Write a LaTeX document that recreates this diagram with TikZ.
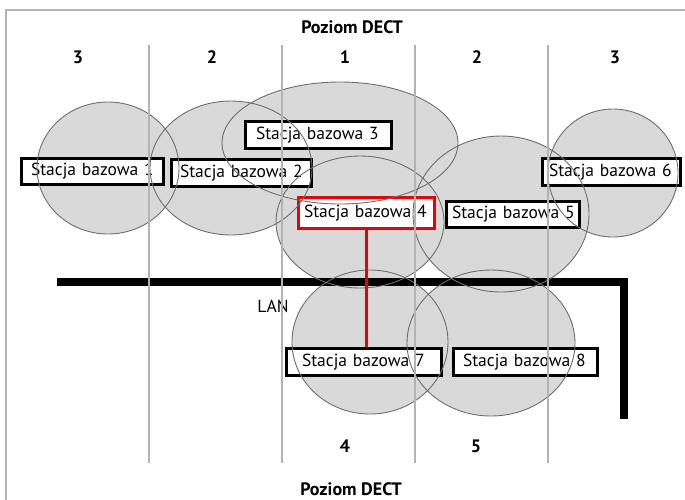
\documentclass[tikz,border=0pt]{standalone}
\usepackage{fontspec}
\setmainfont{PT Sans}
\definecolor{cellgray}{HTML}{D9D9D9}
\definecolor{edgegray}{HTML}{6E6E6E}
\definecolor{gridgray}{HTML}{B3B3B3}
\definecolor{lanred}{HTML}{EE0000}
\begin{document}
\begin{tikzpicture}[x=1pt,y=-1pt,
  cellfill/.style={fill=cellgray},
  celledge/.style={draw=edgegray, line width=0.9pt},
  gridline/.style={draw=gridgray, line width=1.6pt},
  frameline/.style={draw=gridgray, line width=2pt},
  box/.style={draw=black, line width=3.5pt, fill=white, align=left,
    font=\fontsize{17.5}{19}\selectfont, inner ysep=0pt},
  redbox/.style={box, draw=lanred},
  hdr/.style={font=\bfseries\fontsize{18}{20}\selectfont},
  lanline/.style={draw=black, line width=8pt, miter limit=10},
  link/.style={draw=lanred, line width=2.6pt}
]
\useasboundingbox (0,0) rectangle (685,499);
\begin{scope}
\clip (0,0) rectangle (685,499);
\draw[frameline] (6,10) rectangle (720,540);
\end{scope}

% coverage cells: fills
\path[cellfill] (108,168) ellipse [x radius=71, y radius=66];
\path[cellfill] (231,168) ellipse [x radius=81, y radius=67];
\path[cellfill] (340,143) ellipse [x radius=118, y radius=61];
\path[cellfill] (360,222) ellipse [x radius=84, y radius=66];
\path[cellfill] (501,214) ellipse [x radius=88, y radius=78];
\path[cellfill] (613,173) ellipse [x radius=65, y radius=64];
\path[cellfill] (370,342) ellipse [x radius=78, y radius=72];
\path[cellfill] (491,343) ellipse [x radius=84, y radius=73];

% LAN
\coordinate (lanL) at (57,282);
\coordinate (lanC) at (624,282);
\coordinate (lanE) at (624,419);
\draw[lanline] (lanL) -- (lanC) -- (lanE);
\node[font=\fontsize{17.5}{19}\selectfont] (lan) at (273,306) {LAN};

% base stations
\node[box, minimum width=142pt, minimum height=26pt, inner xsep=9.5pt, text width=123pt] (b1) at (92.5,171.5) {\mbox{Stacja bazowa 1}};
\node[box, minimum width=140pt, minimum height=27pt, inner xsep=8.5pt, text width=123pt] (b2) at (241.5,173) {\mbox{Stacja bazowa 2}};
\node[box, minimum width=146pt, minimum height=27pt, inner xsep=10.5pt, text width=125pt] (b3) at (318.5,135) {\mbox{Stacja bazowa 3}};
\node[redbox, minimum width=136pt, minimum height=31pt, inner xsep=5.5pt, text width=125pt] (b4) at (366.5,213) {\mbox{Stacja bazowa 4}};
\node[box, minimum width=133pt, minimum height=26pt, inner xsep=5.5pt, text width=122pt] (b5) at (513,214.5) {\mbox{Stacja bazowa 5}};
\node[box, minimum width=138pt, minimum height=27pt, inner xsep=6.5pt, text width=125pt] (b6) at (611.5,172) {\mbox{Stacja bazowa 6}};
\node[box, minimum width=155pt, minimum height=27pt, inner xsep=15.5pt, text width=124pt] (b7) at (364,362) {\mbox{Stacja bazowa 7}};
\node[box, minimum width=144pt, minimum height=27pt, inner xsep=9.5pt, text width=125pt] (b8) at (525.5,362) {\mbox{Stacja bazowa 8}};

% coverage cells: outlines
\draw[celledge] (108,168) ellipse [x radius=71, y radius=66];
\draw[celledge] (231,168) ellipse [x radius=81, y radius=67];
\draw[celledge] (340,143) ellipse [x radius=118, y radius=61];
\draw[celledge] (360,222) ellipse [x radius=84, y radius=66];
\draw[celledge] (501,214) ellipse [x radius=88, y radius=78];
\draw[celledge] (613,173) ellipse [x radius=65, y radius=64];
\draw[celledge] (370,342) ellipse [x radius=78, y radius=72];
\draw[celledge] (491,343) ellipse [x radius=84, y radius=73];

% DECT level grid
\foreach \gx/\nm in {149/g1,282/g2,415/g3,548/g4} {
  \coordinate (\nm t) at (\gx,45);
  \coordinate (\nm b) at (\gx,463);
  \draw[gridline] (\nm t) -- (\nm b);
}

% red connection
\draw[link] (b4.south) -- (b4.south |- b7.north);

% labels
\node[hdr] (top) at (352,27) {Poziom DECT};
\node[hdr] (bot) at (351,489) {Poziom DECT};
\node[hdr] (n1) at (78,57) {3};
\node[hdr] (n2) at (212,57) {2};
\node[hdr] (n3) at (345,57) {1};
\node[hdr] (n4) at (477,57) {2};
\node[hdr] (n5) at (615,57) {3};
\node[hdr] (n6) at (345,446) {4};
\node[hdr] (n7) at (476,446) {5};
\end{tikzpicture}
\end{document}
